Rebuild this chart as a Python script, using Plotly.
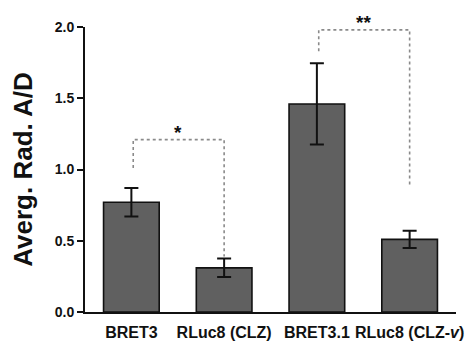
import plotly.graph_objects as go

categories = ["BRET3", "RLuc8 (CLZ)", "BRET3.1", "RLuc8 (CLZ-<i>v</i>)"]
means = [0.77, 0.31, 1.46, 0.51]
errors = [0.10, 0.065, 0.285, 0.06]
y_ticks = [0.0, 0.5, 1.0, 1.5, 2.0]

# significance brackets: (left idx, right idx, left leg bottom, top, right leg bottom, label)
br_left = [0, 2]
br_right = [1, 3]
br_left_bottom = [1.01, 1.83]
br_top = [1.21, 1.98]
br_right_bottom = [0.39, 0.88]
br_labels = ["*", "**"]

FONT = "Arial, Liberation Sans, sans-serif"
x = list(range(len(categories)))

fig = go.Figure()
fig.add_trace(go.Bar(
    x=x, y=means, width=0.6,
    marker=dict(color="#606060", line=dict(color="#111111", width=1.6)),
    error_y=dict(type="data", array=errors, visible=True, color="#111111",
                 thickness=2, width=7),
))

for l, r, lb, t, rb, lab in zip(br_left, br_right, br_left_bottom, br_top,
                                br_right_bottom, br_labels):
    fig.add_trace(go.Scatter(
        x=[l + 0.02, l + 0.02, r, r], y=[lb, t, t, rb], mode="lines",
        line=dict(color="#8a8a8a", width=1.6, dash="dot"),
        hoverinfo="skip", cliponaxis=False, showlegend=False))
    fig.add_annotation(x=(l + r) / 2, y=t, text=lab, showarrow=False,
                       yanchor="bottom", yshift=-4, borderpad=0,
                       font=dict(family=FONT, size=19, color="#111111", weight="bold"))

fig.update_layout(
    width=474, height=344,
    margin=dict(l=77, r=26, t=19, b=40, autoexpand=False),
    plot_bgcolor="white", paper_bgcolor="white",
    showlegend=False,
    font=dict(family=FONT, color="#111111", weight="bold"),
)
fig.update_xaxes(
    range=[-0.5, 3.5], tickvals=x, ticktext=categories, tickangle=0,
    automargin=False, ticklabelstandoff=5,
    showline=True, linecolor="#111111", linewidth=2, ticks="",
    showgrid=False, zeroline=False,
    tickfont=dict(family=FONT, size=16, color="#111111", weight="bold"),
)
fig.update_yaxes(
    range=[0, 2.0], tickvals=y_ticks, tickformat=".1f", automargin=False,
    showline=True, linecolor="#111111", linewidth=2,
    ticks="outside", ticklen=6, tickwidth=2, tickcolor="#111111",
    showgrid=False, zeroline=False,
    tickfont=dict(family=FONT, size=14, color="#111111", weight="bold"),
    title=dict(text="Averg. Rad. A/D", standoff=18,
               font=dict(family=FONT, size=26, color="#111111", weight="bold")),
)

fig.write_html("out.html")
